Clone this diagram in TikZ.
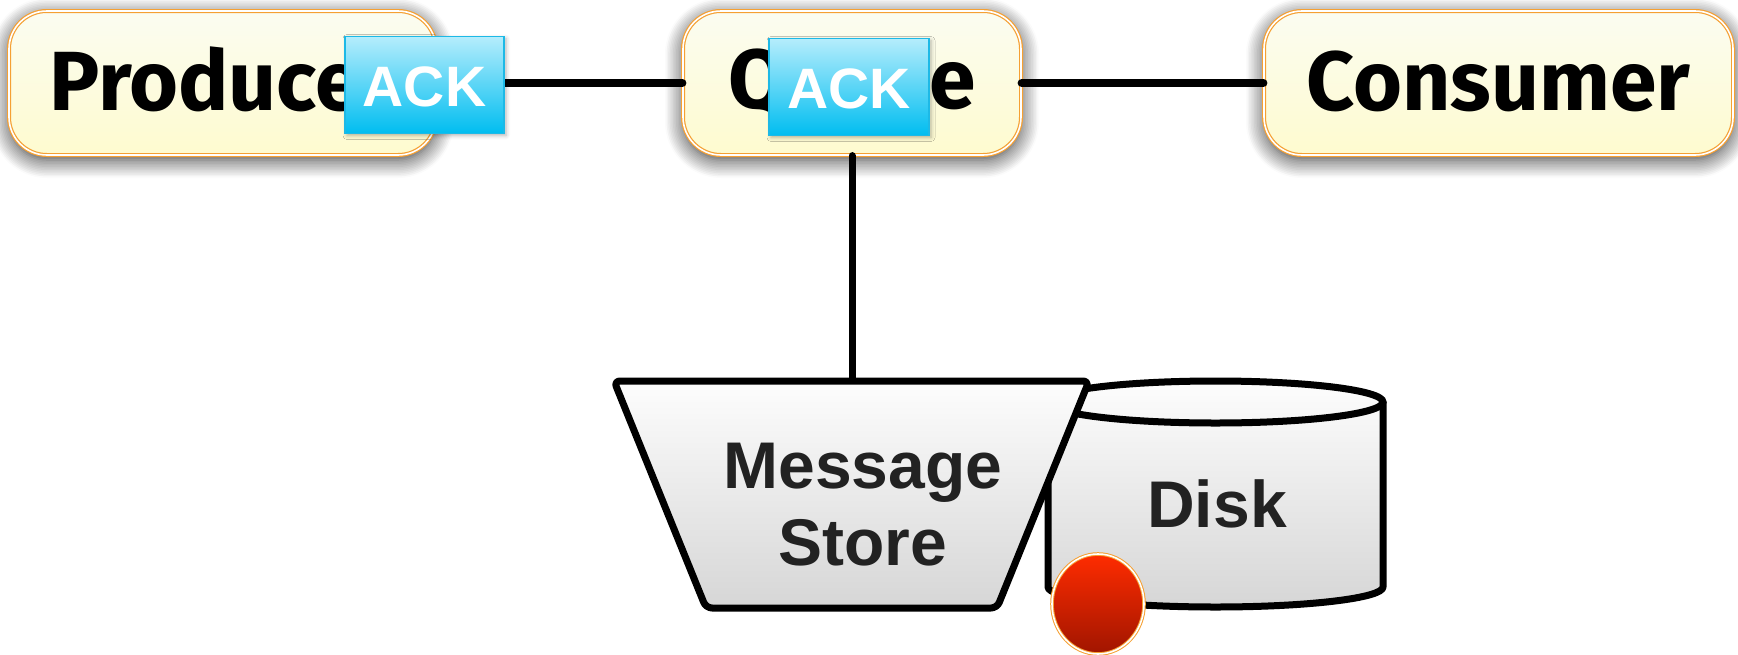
\documentclass[tikz,border=0pt]{standalone}
\usepackage{fontspec}
\setmainfont{Liberation Sans}
\newfontfamily\boxfont{Fira Sans}
\usetikzlibrary{shapes.geometric,shadows.blur}

\definecolor{boxedge}{HTML}{F5A033}
\definecolor{boxtop}{HTML}{FBFCF1}
\definecolor{boxbot}{HTML}{FEFBCF}
\definecolor{acktop}{HTML}{B5EDFC}
\definecolor{ackbot}{HTML}{00BDF0}
\definecolor{ackedge}{HTML}{1DB9E6}
\definecolor{inktext}{HTML}{222222}
\definecolor{shadetop}{HTML}{FDFDFD}
\definecolor{shadebot}{HTML}{D6D6D6}
\definecolor{dottop}{HTML}{FF2C00}
\definecolor{dotbot}{HTML}{A01500}

\tikzset{
  component/.style={rectangle, rounded corners=38pt, draw=boxedge, double=white,
    double distance=1.6pt, line width=1.2pt, top color=boxtop, bottom color=boxbot,
    minimum height=144pt, inner sep=0pt, text=black,
    font=\boxfont\bfseries\fontsize{84}{84}\selectfont, text depth=0pt,
    blur shadow={shadow xshift=0pt, shadow yshift=-5pt, shadow blur radius=18pt,
      shadow blur steps=12, shadow opacity=80}},
  ackbox/.style={rectangle, draw=ackedge, line width=1.4pt, top color=acktop,
    bottom color=ackbot, inner sep=0pt, text=white, text depth=0pt,
    minimum height=97pt, text height=43pt,
    font=\bfseries\fontsize{57}{57}\selectfont,
    blur shadow={shadow xshift=2pt, shadow yshift=-2pt, shadow blur radius=4pt, shadow opacity=30}},
  link/.style={line width=8pt, line cap=round},
  solid shape/.style={line width=7pt, line join=round, rounded corners=6pt,
    top color=shadetop, bottom color=shadebot},
  storelabel/.style={text=inktext, font=\bfseries\fontsize{66}{77}\selectfont, align=center},
}

\begin{document}
\begin{tikzpicture}[x=1pt,y=1pt]
  \useasboundingbox (0,0) rectangle (1738,-654);

  % top row of components
  \node[component, minimum width=427pt, text height=54pt] (producer) at (222.5,-83) {Producer};
  \node[component, minimum width=338pt, text height=50pt] (queue) at (852,-83) {Queue};
  \node[component, minimum width=469pt, text height=54pt] (consumer) at (1498.5,-83) {Consumer};

  % connectors between components
  \draw[link] (producer.east) -- (queue.west);
  \draw[link] (queue.east) -- (consumer.west);

  % acknowledgement badges
  \node[ackbox, minimum width=159pt] (ackp) at (424.5,-85) {ACK};
  \node[ackbox, minimum width=160pt] (ackq) at (849,-87) {ACK};

  % disk cylinder
  \path[solid shape, rounded corners=0pt]
    (1048,-402) -- (1048,-587)
    arc[start angle=180, end angle=360, x radius=167.5, y radius=20]
    -- (1383,-402)
    arc[start angle=0, end angle=180, x radius=167.5, y radius=21] -- cycle;
  \draw[line width=7pt, line join=round]
    (1048,-402) -- (1048,-587)
    arc[start angle=180, end angle=360, x radius=167.5, y radius=20]
    -- (1383,-402);
  \draw[line width=7pt] (1215.5,-402) ellipse[x radius=167.5, y radius=21];
  \node[text=inktext, font=\bfseries\fontsize{66}{66}\selectfont,
        text height=48pt, text depth=0pt, inner sep=0pt] (disk) at (1217,-503) {Disk};

  % message store
  \coordinate (storetop) at (852,-381);
  \draw[link, line width=7pt] (queue.south) -- (storetop);
  \draw[solid shape] (614,-381) -- (1089,-381) -- (997,-608) -- (706,-608) -- cycle;
  \node[storelabel] (store) at (863,-505) {Message\\Store};

  % write-in-progress marker
  \node[ellipse, minimum width=92pt, minimum height=100pt, inner sep=0pt,
        draw=boxedge, double=white, double distance=1.6pt, line width=1pt,
        top color=dottop, bottom color=dotbot] (marker) at (1098,-604) {};
\end{tikzpicture}
\end{document}
